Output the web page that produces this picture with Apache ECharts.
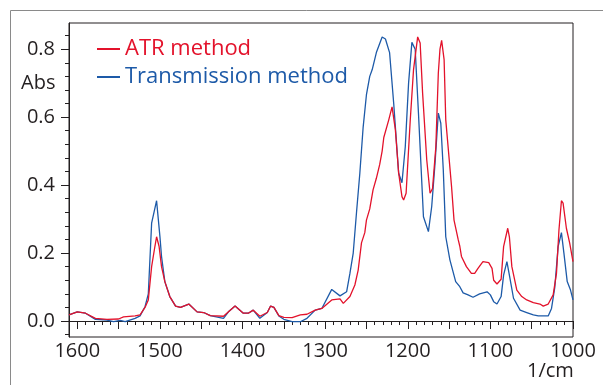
<!DOCTYPE html>
<html>
<head>
<meta charset="utf-8">
<script src="https://cdn.jsdelivr.net/npm/echarts@6/dist/echarts.min.js"></script>
<style>
html,body{margin:0;padding:0;background:#fff;}
#chart{width:603px;height:385px;}
</style>
</head>
<body>
<div id="chart"></div>
<script>
// ---- data (wavenumber in 1/cm, absorbance) ----
const atrWn = [1610,1600,1590,1578,1564,1550,1544,1530,1524,1518,1514,1510,1506,1504,1501,1498,1494,1488,1481,1475,1465,1455,1447,1439,1423,1417,1409,1399,1393,1387,1379,1370,1366,1362,1356,1350,1340,1330,1322,1312,1304,1292,1282,1278,1270,1264,1260,1256,1252,1250,1246,1242,1238,1234,1231,1229,1223,1219,1215,1211,1207,1205,1202,1197,1193,1188,1185,1182,1177,1173,1170,1166,1163,1161,1159,1156,1154,1147,1144,1139,1137,1135,1129,1123,1119,1115,1109,1102,1098,1096,1092,1087,1084,1079,1077,1074,1068,1062,1056,1048,1040,1036,1030,1024,1020,1017,1014,1012,1008,1004,1000];
const atrAbs = [0.018,0.027,0.023,0.008,0.005,0.006,0.012,0.015,0.018,0.040,0.062,0.160,0.220,0.248,0.220,0.160,0.116,0.072,0.044,0.040,0.050,0.027,0.025,0.016,0.014,0.027,0.044,0.023,0.023,0.032,0.014,0.025,0.044,0.040,0.016,0.011,0.010,0.018,0.020,0.032,0.037,0.062,0.065,0.052,0.072,0.106,0.150,0.230,0.260,0.297,0.330,0.386,0.420,0.460,0.500,0.540,0.592,0.630,0.563,0.435,0.366,0.356,0.376,0.590,0.740,0.836,0.818,0.670,0.474,0.376,0.390,0.513,0.730,0.800,0.826,0.769,0.592,0.396,0.297,0.240,0.220,0.190,0.160,0.140,0.140,0.155,0.175,0.172,0.155,0.120,0.109,0.123,0.219,0.273,0.248,0.160,0.091,0.072,0.062,0.054,0.050,0.044,0.050,0.077,0.140,0.268,0.354,0.347,0.273,0.229,0.175];

const trWn = [1610,1600,1590,1578,1564,1556,1548,1542,1530,1524,1518,1514,1510,1504,1500,1498,1494,1488,1481,1475,1465,1455,1447,1439,1423,1417,1409,1399,1393,1387,1379,1370,1366,1362,1356,1350,1340,1330,1322,1312,1304,1292,1282,1274,1270,1266,1262,1258,1254,1250,1246,1243,1238,1231,1227,1222,1217,1211,1207,1203,1199,1195,1191,1187,1181,1175,1171,1167,1163,1160,1157,1154,1149,1142,1137,1133,1127,1121,1113,1104,1100,1096,1092,1087,1084,1080,1077,1072,1064,1056,1048,1042,1030,1026,1022,1018,1014,1011,1007,1003,1000];
const trAbs = [0.018,0.027,0.023,0.005,0.003,-0.002,0.002,-0.002,0.008,0.015,0.042,0.080,0.288,0.354,0.250,0.190,0.116,0.072,0.044,0.040,0.050,0.027,0.025,0.016,0.008,0.027,0.044,0.023,0.023,0.032,0.008,0.025,0.044,0.040,0.015,0.005,-0.002,-0.002,0.008,0.032,0.037,0.093,0.074,0.086,0.140,0.200,0.320,0.435,0.570,0.666,0.720,0.740,0.790,0.836,0.830,0.790,0.640,0.435,0.407,0.513,0.700,0.820,0.800,0.610,0.307,0.263,0.337,0.464,0.612,0.582,0.445,0.248,0.180,0.116,0.101,0.083,0.077,0.070,0.080,0.086,0.077,0.057,0.050,0.072,0.135,0.175,0.135,0.067,0.032,0.025,0.018,0.015,0.015,0.037,0.100,0.219,0.260,0.200,0.116,0.091,0.062];

const seriesNames = ['ATR method','Transmission method'];
const xMajorTicks = [1000,1050,1100,1150,1200,1250,1300,1350,1400,1450,1500,1550,1600];
const xLabels = [1000,1100,1200,1300,1400,1500,1600];
const xMinorTicks = [1000,1010,1020,1030,1040,1050,1060,1070,1080,1090,1100,1110,1120,1130,1140,1150,1160,1170,1180,1190,1200,1210,1220,1230,1240,1250,1260,1270,1280,1290,1300,1310,1320,1330,1340,1350,1360,1370,1380,1390,1400,1410,1420,1430,1440,1450,1460,1470,1480,1490,1500,1510,1520,1530,1540,1550,1560,1570,1580,1590,1600,1610];
const yLabels = [0,0.2,0.4,0.6,0.8];
const yMinorTicks = [-0.04,0,0.04,0.08,0.12,0.16,0.2,0.24,0.28,0.32,0.36,0.4,0.44,0.48,0.52,0.56,0.6,0.64,0.68,0.72,0.76,0.8,0.84];

// ---- chart ----
const RED = '#e3122b', BLUE = '#1d5aa8', INK = '#231f20';
const FONT = '"Open Sans", "Noto Sans", sans-serif';
const pairs = (xs, ys) => xs.map((x, i) => [x, ys[i]]);

const chart = echarts.init(document.getElementById('chart'), null, {renderer: 'canvas'});
const X_MIN = 1000, X_MAX = 1610, Y_MIN = -0.047, Y_MAX = 0.877;

chart.setOption({
  animation: false,
  backgroundColor: '#fff',
  grid: {left: 69, right: 30, top: 23, bottom: 48, show: true, borderColor: INK, borderWidth: 1, backgroundColor: 'transparent'},
  legend: {
    left: 92, top: 33, orient: 'vertical',
    itemWidth: 23, itemHeight: 2, itemGap: 6, itemTextGap: 8,
    icon: 'rect',
    data: [
      {name: seriesNames[0], textStyle: {color: RED}},
      {name: seriesNames[1], textStyle: {color: BLUE}}
    ],
    textStyle: {fontFamily: FONT, fontSize: 22}
  },
  xAxis: [
    {
      type: 'value', inverse: true, min: X_MIN, max: X_MAX, position: 'bottom',
      axisLine: {show: true, lineStyle: {color: INK, width: 1}},
      axisTick: {show: true, length: 8, customValues: xMajorTicks, lineStyle: {color: INK}},
      axisLabel: {show: true, customValues: xLabels, margin: 4, fontFamily: FONT, fontSize: 20, color: INK,
                  formatter: v => String(Math.round(v))},
      splitLine: {show: false}
    },
    {
      type: 'value', inverse: true, min: X_MIN, max: X_MAX, position: 'bottom',
      axisLine: {show: false},
      axisTick: {show: true, length: 4, customValues: xMinorTicks, lineStyle: {color: INK}},
      axisLabel: {show: false},
      splitLine: {show: false}
    }
  ],
  yAxis: [
    {
      type: 'value', min: Y_MIN, max: Y_MAX, position: 'left',
      axisLine: {show: true, lineStyle: {color: INK, width: 1}},
      axisTick: {show: true, length: 8, customValues: yLabels, lineStyle: {color: INK}},
      axisLabel: {show: true, customValues: yLabels, margin: 14, fontFamily: FONT, fontSize: 20, color: INK,
                  formatter: v => v.toFixed(1)},
      splitLine: {show: false}
    },
    {
      type: 'value', min: Y_MIN, max: Y_MAX, position: 'left',
      axisLine: {show: false},
      axisTick: {show: true, length: 4, customValues: yMinorTicks, lineStyle: {color: INK}},
      axisLabel: {show: false},
      splitLine: {show: false}
    }
  ],
  graphic: [
    {type: 'line', shape: {x1: 10.5, y1: 10.5, x2: 603, y2: 10.5}, style: {stroke: '#8a8a8a', lineWidth: 1}, silent: true},
    {type: 'line', shape: {x1: 10.5, y1: 10.5, x2: 10.5, y2: 385}, style: {stroke: '#8a8a8a', lineWidth: 1}, silent: true},
    {type: 'text', left: 21, top: 73, style: {text: 'Abs', fontFamily: FONT, fontSize: 20, fill: INK}},
    {type: 'text', left: 527, top: 361, style: {text: '1/cm', fontFamily: FONT, fontSize: 20, fill: INK}}
  ],
  series: [
    {
      name: seriesNames[1], type: 'line', xAxisIndex: 0, yAxisIndex: 0,
      data: pairs(trWn, trAbs), showSymbol: false, symbol: 'none',
      lineStyle: {color: BLUE, width: 1.3}, itemStyle: {color: BLUE}, z: 2
    },
    {
      name: seriesNames[0], type: 'line', xAxisIndex: 0, yAxisIndex: 0,
      data: pairs(atrWn, atrAbs), showSymbol: false, symbol: 'none',
      lineStyle: {color: RED, width: 1.3}, itemStyle: {color: RED}, z: 3
    }
  ]
});
</script>
</body>
</html>
